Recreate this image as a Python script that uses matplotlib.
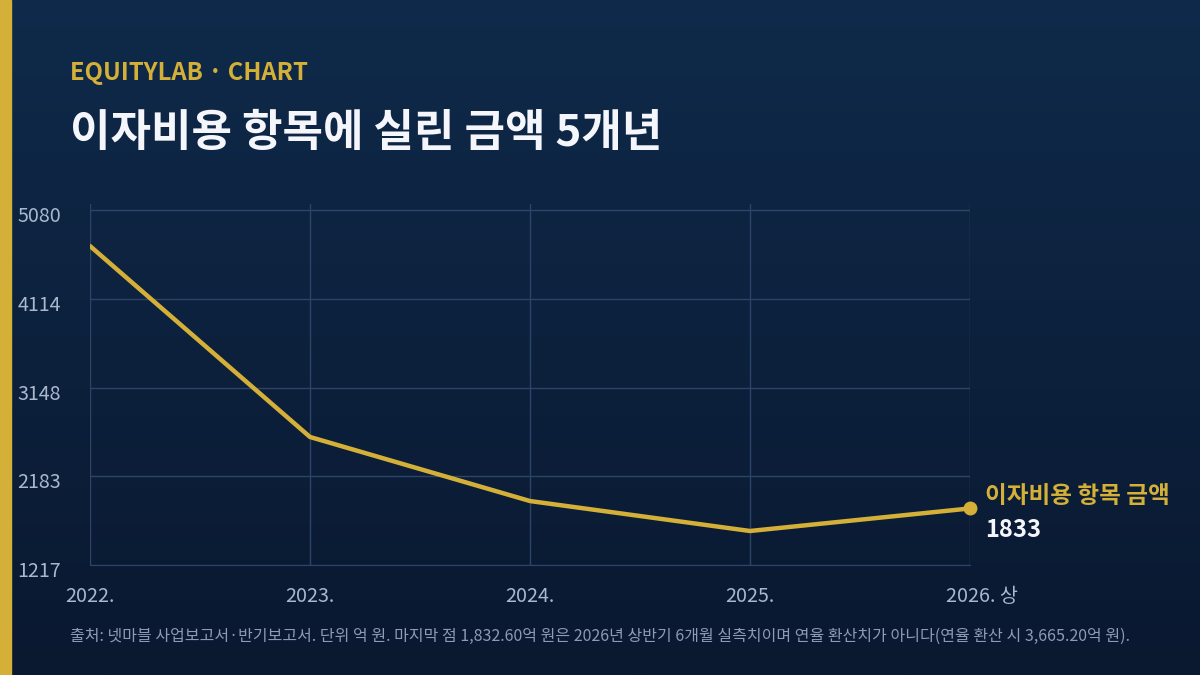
import numpy as np
import matplotlib
matplotlib.use("Agg")
import matplotlib.pyplot as plt
from matplotlib.colors import LinearSegmentedColormap
from matplotlib.transforms import offset_copy

plt.rcParams["font.family"] = ["Noto Sans CJK KR", "DejaVu Sans"]

# 데이터
years = ["2022.", "2023.", "2024.", "2025.", "2026. 상"]
interest = [4688, 2610, 1913, 1587, 1832.6]
y_ticks = [1217, 2183, 3148, 4114, 5080]
series_name = "이자비용 항목 금액"

GOLD = "#d4b038"
TICK = "#a9b8cf"
GRID = "#2c4468"

fig = plt.figure(figsize=(12, 6.75), dpi=100)

# 배경 그라디언트
bg = fig.add_axes([0, 0, 1, 1], zorder=-10)
cmap = LinearSegmentedColormap.from_list("bg", ["#0f2a4a", "#0a1830"])
bg.imshow(np.linspace(0, 1, 256).reshape(-1, 1), aspect="auto", cmap=cmap,
          extent=[0, 1, 0, 1], transform=bg.transAxes)
bg.axis("off")
fig.patches.append(plt.Rectangle((0, 0), 11 / 1200, 1, transform=fig.transFigure,
                                 color=GOLD, zorder=5))

# 제목
fig.text(70 / 1200, 1 - 73 / 675, "EQUITYLAB · CHART", color=GOLD, fontsize=17.2,
         fontweight="bold", va="center", ha="left")
fig.text(70 / 1200, 1 - 133 / 675, "이자비용 항목에 실린 금액 5개년", color="#f4f6fb",
         fontsize=31.7, fontweight="bold", va="center", ha="left")

# 본 차트
ax = fig.add_axes([90 / 1200, 1 - 565 / 675, 880 / 1200, 361 / 675])
ax.set_facecolor("none")
x = np.arange(len(years))
ax.plot(x, interest, color=GOLD, linewidth=3.2, solid_capstyle="round", zorder=3)
ax.plot(x[-1], interest[-1], "o", color=GOLD, markersize=9, zorder=4, clip_on=False)

ax.set_xlim(0, len(years) - 1)
ax.set_ylim(y_ticks[0], y_ticks[-1] + (y_ticks[-1] - y_ticks[0]) * 6 / 355)
ax.set_xticks(x)
ax.set_xticklabels(years)
ax.set_yticks(y_ticks)
ax.set_yticklabels([str(v) for v in y_ticks])
ax.grid(True, color=GRID, linewidth=1)
ax.set_axisbelow(True)
for s in ["top", "right", "left"]:
    ax.spines[s].set_visible(False)
ax.spines["bottom"].set_color(GRID)
ax.tick_params(length=0, colors=TICK, labelsize=14.2)
ax.tick_params(axis="x", pad=15)
for lab in ax.get_yticklabels():
    lab.set_horizontalalignment("left")
    lab.set_transform(offset_copy(lab.get_transform(), fig=fig, x=-68, y=-4, units="dots"))
last = ax.get_xticklabels()[-1]
last.set_horizontalalignment("left")
last.set_transform(offset_copy(last.get_transform(), fig=fig, x=-24, y=0, units="dots"))

# 끝점 라벨
ax.annotate(series_name, (x[-1], interest[-1]), xytext=(11, 9), textcoords="offset points",
            color=GOLD, fontsize=17, fontweight="bold", va="center", ha="left",
            annotation_clip=False)
ax.annotate(f"{interest[-1]:.0f}", (x[-1], interest[-1]), xytext=(11, -15.5),
            textcoords="offset points", color="#f4f6fb", fontsize=17,
            fontweight="bold", va="center", ha="left", annotation_clip=False)

# 출처
fig.text(70 / 1200, 1 - 636 / 675,
         "출처: 넷마블 사업보고서·반기보고서. 단위 억 원. 마지막 점 1,832.60억 원은 2026년 상반기 "
         "6개월 실측치이며 연율 환산치가 아니다(연율 환산 시 3,665.20억 원).",
         color="#8d9cb6", fontsize=11.5, va="center", ha="left")

fig.savefig("out.png", dpi=100)
